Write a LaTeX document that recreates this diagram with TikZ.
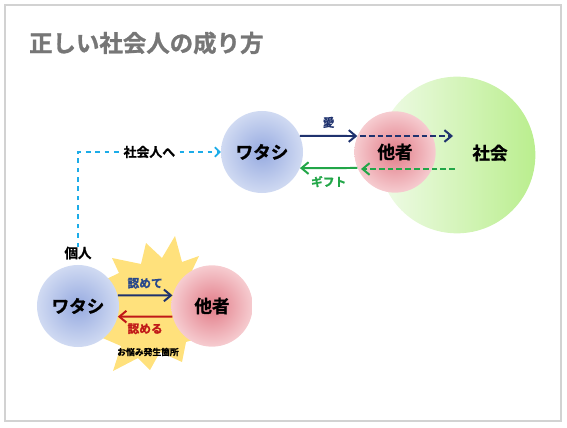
\documentclass[tikz,border=0pt]{standalone}
\usepackage{fontspec}
\setmainfont{Noto Sans CJK JP}[BoldFont={Noto Sans CJK JP Bold}, BoldFeatures={FakeBold=1.2}]
\usetikzlibrary{arrows.meta}

\definecolor{meIn}{RGB}{150,170,224}
\definecolor{meOut}{RGB}{208,218,242}
\definecolor{otherIn}{RGB}{226,124,136}
\definecolor{otherOut}{RGB}{246,204,208}
\definecolor{socLeft}{RGB}{240,251,232}
\definecolor{socRight}{RGB}{186,238,142}
\definecolor{navyarr}{RGB}{31,50,110}
\definecolor{giftgreen}{RGB}{34,166,72}
\definecolor{linkcyan}{RGB}{28,172,232}
\definecolor{redarr}{RGB}{192,24,24}
\definecolor{titlegray}{RGB}{118,118,118}
\definecolor{burstyellow}{RGB}{255,225,124}

\tikzset{
  me/.style={circle, minimum size=2.46cm, inner sep=0pt,
    inner color=meIn, outer color=meOut,
    font=\fontsize{15}{18}\selectfont\bfseries},
  other/.style={circle, minimum size=2.44cm, inner sep=0pt,
    inner color=otherIn, outer color=otherOut,
    font=\fontsize{15}{18}\selectfont\bfseries},
  arr/.style={line width=1.7pt, -{Straight Barb[length=6pt,width=10pt,line width=1.7pt]}},
  lbl/.style={inner sep=1pt, font=\fontsize{10}{12}\selectfont\bfseries},
}

\begin{document}
\begin{tikzpicture}[x=0.03cm, y=-0.03cm]

\useasboundingbox (0,0) rectangle (567,428);

% frame
\draw[gray!35, line width=1.2pt] (5,5) rectangle (561,421);

% title
\node[anchor=west, text=titlegray, font=\fontsize{20}{24}\selectfont\bfseries]
  (title) at (25,43) {正しい社会人の成り方};

% society
\node[circle, minimum size=4.7cm, inner sep=0pt,
  left color=socLeft, right color=socRight] (soc) at (457,155) {};
\node[font=\fontsize{15}{18}\selectfont\bfseries] (socText) at (490,153) {社会};

% trouble zone
\fill[burstyellow]
(175,236) --
(182,262) --
(199,256) --
(190,275) --
(215,290) --
(195,310) --
(210,335) --
(186,342) --
(182,362) --
(160,352) --
(150,370) --
(138,358) --
(113,371) --
(121,346) --
(98,336) --
(113,305) --
(94,285) --
(119,273) --
(112,258) --
(141,264) --
(146,243) --
(162,258) --
cycle;

% top row
\node[me] (me1) at (262,152) {ワタシ};
\node[other] (ot1) at (395,152) {他者};

\coordinate (loveOut) at (360,136);
\coordinate (loveEnd) at (453,136);
\coordinate (giftStart) at (455,169);
\coordinate (giftIn) at (361,169);

\draw[arr, navyarr] (me1.23) -- node[lbl, above=5pt] (love) {愛} (ot1.157);
\draw[arr, navyarr, dash pattern=on 5pt off 2.5pt] (loveOut) -- (loveEnd);
\draw[arr, giftgreen, dash pattern=on 5pt off 2.5pt] (giftStart) -- (giftIn);
\draw[arr, giftgreen] (ot1.203) -- node[lbl, below=5pt] (gift) {ギフト} (me1.-23);

% bottom row
\node[me] (me2) at (78,306) {ワタシ};
\node[other] (ot2) at (212,306) {他者};
\node[font=\fontsize{11.5}{14}\selectfont\bfseries] (kojin) at (78,253) {個人};

\draw[arr, navyarr] (me2.15) -- node[lbl, above=4pt, text={rgb,255:red,40;green,72;blue,140}]
  (accept) {認めて} (ot2.165);
\draw[arr, redarr] (ot2.195) -- node[lbl, below=4pt] (accepted) {認める} (me2.-15);

\node[font=\fontsize{7.5}{9}\selectfont\bfseries] (trouble) at (148,352) {お悩み発生箇所};

% to society
\draw[linkcyan, line width=1.5pt, dash pattern=on 4pt off 4pt,
  -{Straight Barb[length=4pt,width=8pt,line width=1.5pt]}]
  ([yshift=-4pt]kojin.north) |- node[pos=0.75, fill=white, text=black, inner sep=3pt,
  font=\fontsize{11}{13}\selectfont\bfseries] (toSoc) {社会人へ} (me1.west);

\end{tikzpicture}
\end{document}
